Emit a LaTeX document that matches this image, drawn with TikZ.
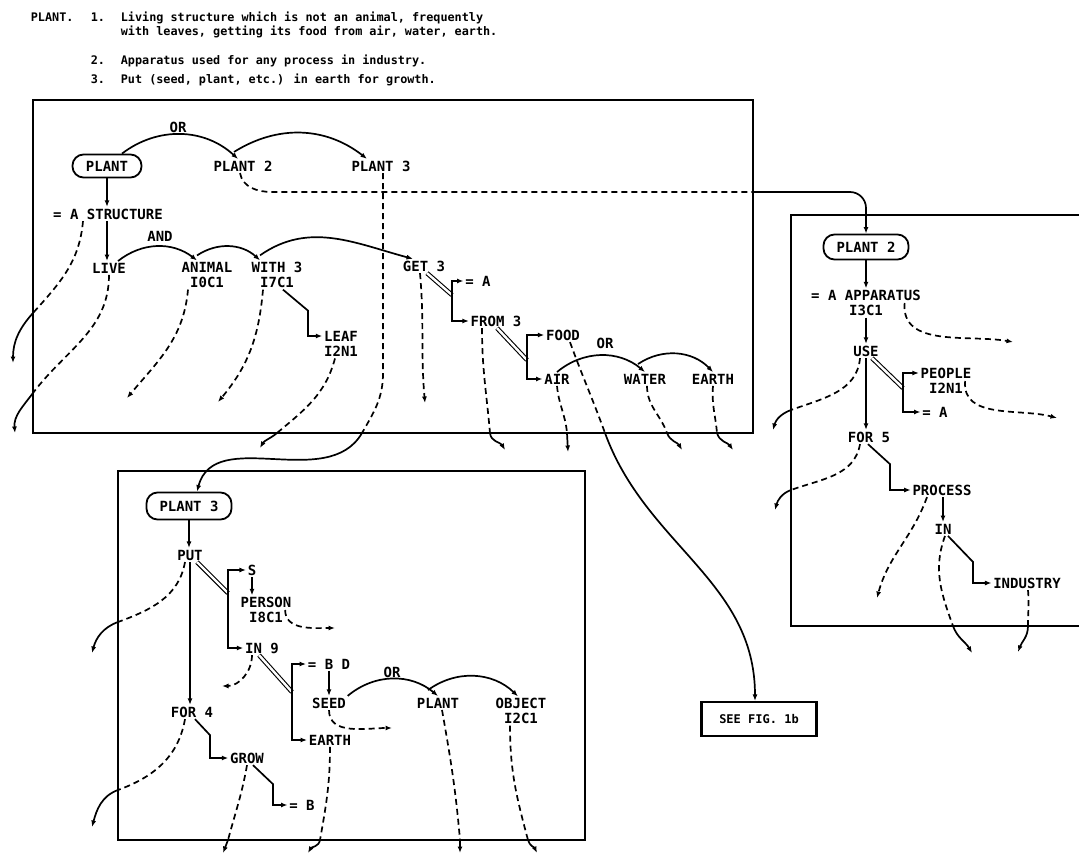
\documentclass[tikz,border=0pt]{standalone}
\usepackage{fontspec}
\usepackage{tikz}
\usetikzlibrary{arrows,arrows.meta}
\newfontfamily\lettering{DejaVu Sans Mono}

\tikzset{
  lbl/.style={font=\lettering\bfseries\fontsize{14}{15}\selectfont, inner sep=1pt, align=center},
  head/.style={font=\lettering\bfseries\fontsize{11.8}{13}\selectfont, inner sep=0pt, anchor=base west},
  panel/.style={draw, line width=2.2pt},
  rbox/.style={lbl, draw, line width=1.8pt, rounded corners=11pt, minimum width=85pt, minimum height=25pt},
  dlink/.style={dash pattern=on 6pt off 4pt},
  ptr/.style={-{Latex[length=6.5pt,width=5pt]}},
  dbl/.style={double, double distance=2.4pt, line width=1.1pt}
}

\begin{document}
\begin{tikzpicture}[x=1pt, y=1pt, line width=1.7pt]
\useasboundingbox (0,0) rectangle (1079,-856);

% heading
\node[head] at (30,-22) {PLANT.};
\node[head] at (90,-22) {1.};
\node[head] at (120,-22) {Living structure which is not an animal, frequently};
\node[head] at (120,-36) {with leaves, getting its food from air, water, earth.};
\node[head] at (90,-65) {2.};
\node[head] at (120,-65) {Apparatus used for any process in industry.};
\node[head] at (90,-84) {3.};
\node[head] at (120,-84) {Put (seed, plant, etc.) in earth for growth.};

% frames
\draw[panel] (33,-100) rectangle (753,-433);
\draw[panel] (1079,-215) -- (791,-215) -- (791,-626) -- (1079,-626);
\draw[panel] (118,-471) rectangle (585,-840);
\node[lbl, draw, line width=2.2pt, minimum width=115pt, minimum height=34pt,
  font=\lettering\bfseries\fontsize{12}{13}\selectfont] (seefig) at (759,-719) {SEE FIG. 1b};

% first plane: PLANT
\node[rbox, minimum width=69pt, minimum height=23pt] (plant) at (107,-166) {PLANT};
\node[lbl] (plantB) at (243,-166) {PLANT 2};
\node[lbl] (plantC) at (381,-166) {PLANT 3};
\node[lbl] at (178,-127) {OR};
\node[lbl] (struct) at (108,-214) {= A STRUCTURE};
\node[lbl] at (160,-236) {AND};
\node[lbl] (live) at (109,-268) {LIVE};
\node[lbl] (animal) at (207,-275) {ANIMAL\\I0C1};
\node[lbl] (with) at (277,-275) {WITH 3\\I7C1};
\node[lbl] (leaf) at (341,-344) {LEAF\\I2N1};
\node[lbl] (get) at (424,-266) {GET 3};
\node[lbl] (eqa) at (478,-281) {= A};
\node[lbl] (from) at (496,-321) {FROM 3};
\node[lbl] (food) at (563,-335) {FOOD};
\node[lbl] at (605,-343) {OR};
\node[lbl] (air) at (557,-379) {AIR};
\node[lbl] (water) at (645,-379) {WATER};
\node[lbl] (earth) at (713,-379) {EARTH};

\draw[ptr] (plant) -- (plant |- struct.north);
\draw[ptr] (struct.south -| plant) -- (live.north -| plant);
\draw[ptr] ([xshift=15pt]plant.north) to[bend left=40] ([xshift=-5pt]plantB.north);
\draw[ptr] ([xshift=-9pt,yshift=7pt]plantB.north) to[bend left=35] ([xshift=-14pt]plantC.north);
\draw[ptr] ([xshift=9pt]live.north) to[bend left=38] ([xshift=-10pt]animal.north);
\draw[ptr] ([xshift=-10pt,yshift=5pt]animal.north) to[bend left=38] ([xshift=-17pt]with.north);
\draw[ptr] ([xshift=-17pt,yshift=5pt]with.north) to[out=35,in=165] ([xshift=-11pt]get.north);
\draw[ptr] ([xshift=6pt]with.south) -- ++(25,-21) |- ([yshift=8pt]leaf.west);
\coordinate (gf) at (452,-295);
\draw[dbl] ([xshift=3pt]get.south) -- (gf);
\draw[ptr] (gf) |- (eqa);
\draw[ptr] (gf) |- (from);
\coordinate (ff) at (527,-360);
\draw[dbl] ([xshift=1pt]from.south) -- (ff);
\draw[ptr] (ff) |- (food);
\draw[ptr] (ff) |- (air);
\draw[ptr] (air.north) to[bend left=40] (water.north);
\draw[ptr] ([xshift=-7pt,yshift=8pt]water.north) to[bend left=40] (earth.north);

% links out of the first plane
\coordinate (a1) at (33,-313); \coordinate (a1e) at (13,-363);
\draw[dlink] ([xshift=-25pt]struct.south) to[out=265,in=48] (a1);
\draw[ptr] (a1) to[out=228,in=90] (a1e);
\coordinate (a2) at (33,-393); \coordinate (a2e) at (15,-433);
\draw[dlink] (live.south) to[out=270,in=53] (a2);
\draw[ptr] (a2) to[out=233,in=95] (a2e);
\coordinate (a3e) at (127,-398);
\draw[dlink,ptr] ([xshift=-19pt]animal.south) to[out=265,in=50] (a3e);
\coordinate (a4e) at (218,-402);
\draw[dlink,ptr] ([xshift=-14pt]with.south) to[out=265,in=50] (a4e);
\coordinate (a5) at (277,-433); \coordinate (a5e) at (260,-448);
\draw[dlink] ([xshift=-6pt]leaf.south) to[out=255,in=40] (a5);
\draw[ptr] (a5) to[out=220,in=60] (a5e);
\coordinate (a6) at (362,-433);
\draw[dlink] ([xshift=2pt]plantC.south) -- ++(0,-200) to[out=270,in=60] (a6);
\coordinate (a7e) at (425,-403);
\draw[dlink,ptr] ([xshift=-4pt]get.south) to[out=275,in=95] (a7e);
\coordinate (a8) at (490,-433); \coordinate (a8e) at (505,-450);
\draw[dlink] ([xshift=-14pt]from.south) to[out=270,in=95] (a8);
\draw[ptr] (a8) to[out=275,in=120] (a8e);
\coordinate (a9) at (567,-433); \coordinate (a9e) at (568,-452);
\draw[dlink] (air.south) to[out=275,in=95] (a9);
\draw[ptr] (a9) -- (a9e);
\coordinate (a10) at (605,-433);
\draw[dlink] ([xshift=7pt]food.south) to[out=290,in=110] (a10);
\draw[ptr] (a10) to[out=290,in=90] ([xshift=-4pt]seefig.north);
\coordinate (a11) at (667,-433); \coordinate (a11e) at (682,-450);
\draw[dlink] ([xshift=2pt]water.south) to[out=270,in=110] (a11);
\draw[ptr] (a11) to[out=290,in=120] (a11e);
\coordinate (a12) at (717,-433); \coordinate (a12e) at (733,-450);
\draw[dlink] (earth.south) to[out=265,in=95] (a12);
\draw[ptr] (a12) to[out=285,in=125] (a12e);
\coordinate (a13) at (753,-192);
\draw[dlink] ([xshift=-3pt]plantB.south) to[out=280,in=180] (272,-192) -- (a13);

% second plane: PLANT 2
\node[rbox] (plantTwo) at (866,-247) {PLANT 2};
\node[lbl] (appar) at (866,-303) {= A APPARATUS\\I3C1};
\node[lbl] (use) at (866,-351) {USE};
\node[lbl] (people) at (946,-381) {PEOPLE\\I2N1};
\node[lbl] (eqa2) at (935,-412) {= A};
\node[lbl] (forfive) at (869,-437) {FOR 5};
\node[lbl] (process) at (942,-490) {PROCESS};
\node[lbl] (inP) at (943,-529) {IN};
\node[lbl] (industry) at (1027,-583) {INDUSTRY};

\draw[ptr, rounded corners=16pt] (a13) -| (plantTwo.north);
\draw[ptr] (plantTwo) -- (plantTwo |- appar.north);
\draw[ptr] (appar.south -| plantTwo) -- (use);
\draw[ptr] (use) -- (use |- forfive.north);
\coordinate (uf) at (903,-388);
\draw[dbl] ([xshift=6pt]use.south) -- (uf);
\draw[ptr] (uf) |- ([yshift=8pt]people.west);
\draw[ptr] (uf) |- (eqa2);
\draw[ptr] ([xshift=-1pt]forfive.south) -- ++(22,-20) |- (process);
\draw[ptr] (process.south -| inP) -- (inP);
\draw[ptr] ([xshift=5pt]inP.south) -- ++(25,-26) |- (industry);

\coordinate (b1e) at (1013,-342);
\draw[dlink,ptr] ([xshift=-18pt]appar.east) to[out=265,in=170] (b1e);
\coordinate (b2e) at (1057,-418);
\draw[dlink,ptr] ([xshift=-8pt]people.east) to[out=265,in=165] (b2e);
\coordinate (b3) at (791,-410); \coordinate (b3e) at (773,-430);
\draw[dlink] ([xshift=-6pt]use.south) to[out=265,in=20] (b3);
\draw[ptr] (b3) to[out=200,in=75] (b3e);
\coordinate (b4) at (791,-490); \coordinate (b4e) at (775,-510);
\draw[dlink] ([xshift=-9pt]forfive.south) to[out=260,in=20] (b4);
\draw[ptr] (b4) to[out=200,in=75] (b4e);
\coordinate (b5e) at (877,-598);
\draw[dlink,ptr] ([xshift=-15pt]process.south) to[out=250,in=75] (b5e);
\coordinate (b6) at (953,-626); \coordinate (b6e) at (972,-653);
\draw[dlink] ([xshift=2pt]inP.south) to[out=250,in=110] (b6);
\draw[ptr] (b6) to[out=290,in=120] (b6e);
\coordinate (b7) at (1028,-626); \coordinate (b7e) at (1018,-652);
\draw[dlink] ([xshift=1pt]industry.south) to[out=275,in=90] (b7);
\draw[ptr] (b7) to[out=270,in=70] (b7e);

% third plane: PLANT 3
\node[rbox, minimum height=27pt] (plantThree) at (189,-506) {PLANT 3};
\node[lbl] (put) at (190,-555) {PUT};
\node[lbl] (sP) at (252,-570) {S};
\node[lbl] (person) at (266,-610) {PERSON\\I8C1};
\node[lbl] (innine) at (262,-648) {IN 9};
\node[lbl] (ebd) at (329,-664) {= B D};
\node[lbl] (seed) at (329,-703) {SEED};
\node[lbl] at (392,-672) {OR};
\node[lbl] (plantS) at (438,-703) {PLANT};
\node[lbl] (object) at (521,-711) {OBJECT\\I2C1};
\node[lbl] (earthS) at (330,-740) {EARTH};
\node[lbl] (forfour) at (192,-712) {FOR 4};
\node[lbl] (grow) at (247,-758) {GROW};
\node[lbl] (eqb) at (302,-805) {= B};

\draw[ptr] (a6) to[out=240,in=75] ([xshift=8pt]plantThree.north);
\draw[ptr] (plantThree) -- (plantThree |- put.north);
\draw[ptr] (put) -- (put |- forfour.north);
\coordinate (pf) at (228,-593);
\draw[dbl] ([xshift=7pt]put.south) -- (pf);
\draw[ptr] (pf) |- (sP);
\draw[ptr] (pf) |- (innine);
\draw[ptr] (sP) -- (sP |- person.north);
\coordinate (nf) at (292,-692);
\draw[dbl] ([xshift=-3pt]innine.south) -- (nf);
\draw[ptr] (nf) |- (ebd);
\draw[ptr] (nf) |- (earthS);
\draw[ptr] (ebd.south) -- (ebd.south |- seed.north);
\draw[ptr] (seed.north east) to[bend left=40] (plantS.north);
\draw[ptr] ([xshift=-10pt,yshift=6pt]plantS.north) to[bend left=40] ([xshift=-3pt]object.north);
\draw[ptr] ([xshift=3pt]forfour.south) -- ++(15,-16) |- (grow);
\draw[ptr] ([xshift=6pt]grow.south) -- ++(20,-19) |- (eqb);

\coordinate (c1) at (118,-622); \coordinate (c1e) at (92,-653);
\draw[dlink] ([xshift=-5pt]put.south) to[out=260,in=20] (c1);
\draw[ptr] (c1) to[out=200,in=75] (c1e);
\coordinate (c2) at (118,-790); \coordinate (c2e) at (92,-827);
\draw[dlink] ([xshift=-7pt]forfour.south) to[out=260,in=20] (c2);
\draw[ptr] (c2) to[out=200,in=75] (c2e);
\coordinate (c3e) at (335,-628);
\draw[dlink,ptr] ([xshift=-8pt]person.east) to[out=270,in=180] (c3e);
\coordinate (c4e) at (222,-686);
\draw[dlink,ptr] ([xshift=-10pt]innine.south) to[out=270,in=0] (c4e);
\coordinate (c5e) at (392,-728);
\draw[dlink,ptr] (seed.south) to[out=270,in=180] (c5e);
\coordinate (c6) at (228,-840); \coordinate (c6e) at (223,-853);
\draw[dlink] (grow.south) to[out=260,in=75] (c6);
\draw[ptr] (c6) -- (c6e);
\coordinate (c7) at (320,-840); \coordinate (c7e) at (308,-853);
\draw[dlink] (earthS.south) to[out=270,in=80] (c7);
\draw[ptr] (c7) to[out=260,in=60] (c7e);
\coordinate (c8) at (460,-840); \coordinate (c8e) at (460,-853);
\draw[dlink] ([xshift=4pt]plantS.south) to[out=280,in=95] (c8);
\draw[ptr] (c8) -- (c8e);
\coordinate (c9) at (528,-840); \coordinate (c9e) at (537,-853);
\draw[dlink] ([xshift=-11pt]object.south) to[out=270,in=105] (c9);
\draw[ptr] (c9) to[out=285,in=115] (c9e);
\end{tikzpicture}
\end{document}
